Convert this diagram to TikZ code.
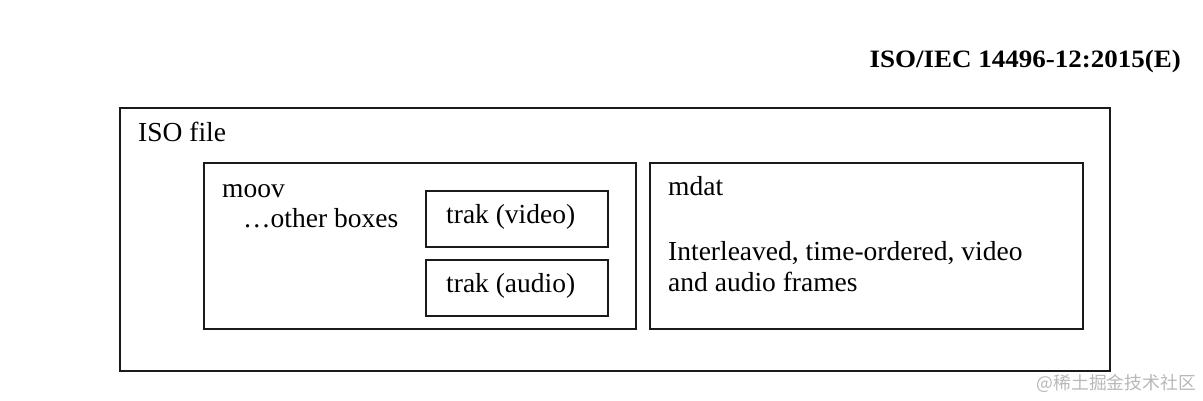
\documentclass[tikz,border=0pt]{standalone}
\usepackage{fontspec}
\setmainfont{Liberation Serif}
\newfontfamily\hdrfont[FakeStretch=1.08]{Liberation Serif}
\newfontfamily\cjkfont{Noto Sans CJK SC}
\definecolor{boxline}{HTML}{1A1A1A}
\definecolor{wmgray}{HTML}{B8B8B8}
\begin{document}
\begin{tikzpicture}[x=1pt,y=-1pt,
  box/.style={draw=boxline, line width=1.8pt, fill=none},
  lbl/.style={anchor=base west, inner sep=0pt, font=\fontsize{27.5}{31}\selectfont, text=black}]
\useasboundingbox (0,0) rectangle (1203,401);
% header
\node[anchor=base east, inner sep=0pt, font=\hdrfont\bfseries\fontsize{25}{28}\selectfont] (hdr) at (1181,68) {ISO/IEC 14496-12:2015(E)};
% boxes
\draw[box] (120,108) rectangle (1110,371);
\draw[box] (204,163) rectangle (636,329);
\draw[box] (650,163) rectangle (1083,329);
\draw[box] (426,191) rectangle (608,247);
\draw[box] (426,260) rectangle (608,316);
% labels
\node[lbl] (iso) at (138,142) {ISO file};
\node[lbl] (moov) at (222,197) {moov};
\node[lbl] (other) at (243,228) {\ldots other boxes};
\node[lbl] (tv) at (446,223) {trak (video)};
\node[lbl] (ta) at (446,292) {trak (audio)};
\node[lbl] (mdat) at (668,196) {mdat};
\node[lbl] (il1) at (668,260) {Interleaved, time-ordered, video};
\node[lbl] (il2) at (668,291) {and audio frames};
% watermark
\node[anchor=base east, inner sep=0pt, font=\cjkfont\fontsize{17.8}{20}\selectfont, text=wmgray] (wm) at (1196,389) {@稀土掘金技术社区};
\end{tikzpicture}
\end{document}
